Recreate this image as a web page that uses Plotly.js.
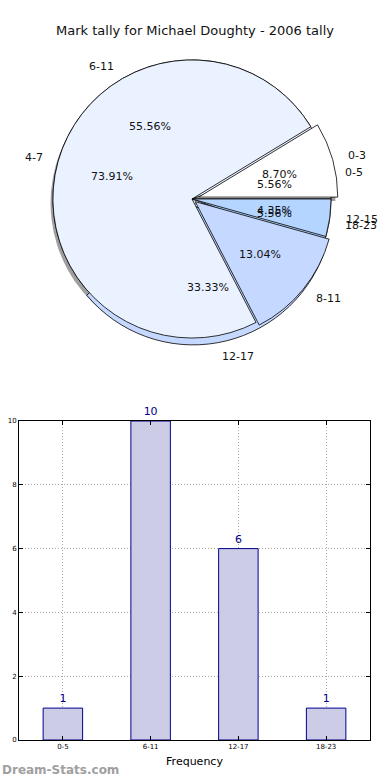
<!DOCTYPE html>
<html>
<head>
<meta charset="utf-8">
<script src="https://cdn.plot.ly/plotly-3.0.1.min.js"></script>
<style>html,body{margin:0;padding:0;background:#fff;}#chart{width:390px;height:780px;}</style>
</head>
<body>
<div id="chart"></div>
<script>
// Pie 1: 4-point bins
var bins1 = ["0-3", "4-7", "8-11", "12-15"];
var counts1 = [2, 17, 3, 1];
// Pie 2 / bar chart: 6-point bins
var bins2 = ["0-5", "6-11", "12-17", "18-23"];
var counts2 = [1, 10, 6, 1];

var colors = ["#FFFFFF", "#EBF2FF", "#C5D8FF", "#B3D5FF"];
var pull1 = [0.05, 0, 0.03, 0];
var pull2 = [0, 0, 0.05, 0];

var F = "DejaVu Sans, sans-serif";
var W = 390, H = 780;
var dom = {x: [0.1179, 0.8667], y: [0.5577, 0.9321]};
var shadowDom = {x: [dom.x[0] - 0.006, dom.x[1] - 0.006], y: [dom.y[0] - 0.005, dom.y[1] - 0.005]};

function sum(a) { return a.reduce(function (s, v) { return s + v; }, 0); }

// first slice starts at 3 o'clock and slices run counterclockwise (matplotlib style)
function pieBase(labels, values, pull, d) {
  return {
    type: "pie", labels: labels, values: values, sort: false,
    direction: "counterclockwise", rotation: 90 - 360 * values[0] / sum(values), pull: pull,
    domain: d, showlegend: false, hoverinfo: "none", textinfo: "none"
  };
}

var traces = [];

// shadow
var sh = pieBase(bins1, counts1, pull1, shadowDom);
sh.marker = {colors: ["#777", "#777", "#777", "#777"], line: {width: 0}};
sh.opacity = 0.7;
traces.push(sh);

// pie 2 fill (under), pie 1 fill (over)
var p2 = pieBase(bins2, counts2, pull2, dom);
p2.marker = {colors: colors, line: {color: "#000", width: 0.8}};
traces.push(p2);
var p1 = pieBase(bins1, counts1, pull1, dom);
p1.marker = {colors: colors, line: {color: "#000", width: 0.8}};
traces.push(p1);

// labels placed like matplotlib: percent at 0.6 r, label at 1.1 r (both shifted by explode)
var cxPx = (dom.x[0] + dom.x[1]) / 2 * W;
var cyPx = (1 - (dom.y[0] + dom.y[1]) / 2) * H;
var rPx = Math.min((dom.x[1] - dom.x[0]) * W, (dom.y[1] - dom.y[0]) * H) / 2 / 1.05;

var annotations = [];
function addPieLabels(labels, values, pull) {
  var tot = sum(values), start = 0;
  values.forEach(function (v, i) {
    var mid = (start + v / 2) / tot * 2 * Math.PI;
    start += v;
    var c = Math.cos(mid), s = Math.sin(mid);
    var pr = (0.6 + pull[i]) * rPx, lr = (1.1 + pull[i]) * rPx;
    annotations.push({
      text: (100 * v / tot).toFixed(2) + "%", xref: "paper", yref: "paper",
      x: (cxPx + pr * c) / W, y: 1 - (cyPx - pr * s) / H,
      xanchor: "center", yanchor: "middle", showarrow: false,
      font: {family: F, size: 11, color: "#111"}
    });
    annotations.push({
      text: labels[i], xref: "paper", yref: "paper",
      x: (cxPx + lr * c) / W, y: 1 - (cyPx - lr * s) / H,
      xanchor: c > 0 ? "left" : "right", yanchor: "middle", showarrow: false,
      font: {family: F, size: 11, color: "#111"}
    });
  });
}
addPieLabels(bins2, counts2, pull2);
addPieLabels(bins1, counts1, pull1);

annotations.push({
  text: "Dream-Stats.com", xref: "paper", yref: "paper", x: 0, y: 1 - 770 / H,
  xanchor: "left", yanchor: "middle", showarrow: false,
  font: {family: F, size: 12, color: "#a0a0a0", weight: "bold"}
});

// bar chart
traces.push({
  type: "bar", x: bins2, y: counts2, width: 0.45,
  marker: {color: "#CCCCE6", line: {color: "#00008B", width: 1}},
  text: counts2.map(String), textposition: "outside",
  textfont: {family: F, size: 11, color: "#00008B"},
  cliponaxis: false, hoverinfo: "none", showlegend: false,
  xaxis: "x", yaxis: "y"
});

var layout = {
  width: W, height: H,
  margin: {l: 0, r: 0, t: 0, b: 0},
  paper_bgcolor: "#fff", plot_bgcolor: "#fff",
  font: {family: F, color: "#000"},
  title: {text: "Mark tally for Michael Doughty - 2006 tally", x: 0.5, xanchor: "center",
          y: 1 - 30 / H, yanchor: "middle", font: {family: F, size: 13, color: "#111"}},
  xaxis: {
    domain: [19 / W, 370 / W], anchor: "y", type: "category",
    range: [-0.5, 3.5], showline: true, linecolor: "#000", linewidth: 1, mirror: "ticks",
    ticks: "inside", ticklen: 4, tickcolor: "#000",
    showgrid: true, gridcolor: "#a8a8a8", griddash: "1px,2px", gridwidth: 1,
    tickfont: {family: F, size: 7, color: "#000"},
    title: {text: "Frequency", font: {family: F, size: 11, color: "#000"}, standoff: 6},
    zeroline: false, fixedrange: true
  },
  yaxis: {
    domain: [40 / H, 359 / H], anchor: "x",
    range: [0, 10], dtick: 2, showline: true, linecolor: "#000", linewidth: 1, mirror: "ticks",
    ticks: "inside", ticklen: 4, tickcolor: "#000",
    showgrid: true, gridcolor: "#a8a8a8", griddash: "1px,2px", gridwidth: 1,
    tickfont: {family: F, size: 7, color: "#000"},
    zeroline: false, fixedrange: true
  },
  annotations: annotations
};

Plotly.newPlot("chart", traces, layout, {displayModeBar: false, staticPlot: true});
</script>
</body>
</html>
